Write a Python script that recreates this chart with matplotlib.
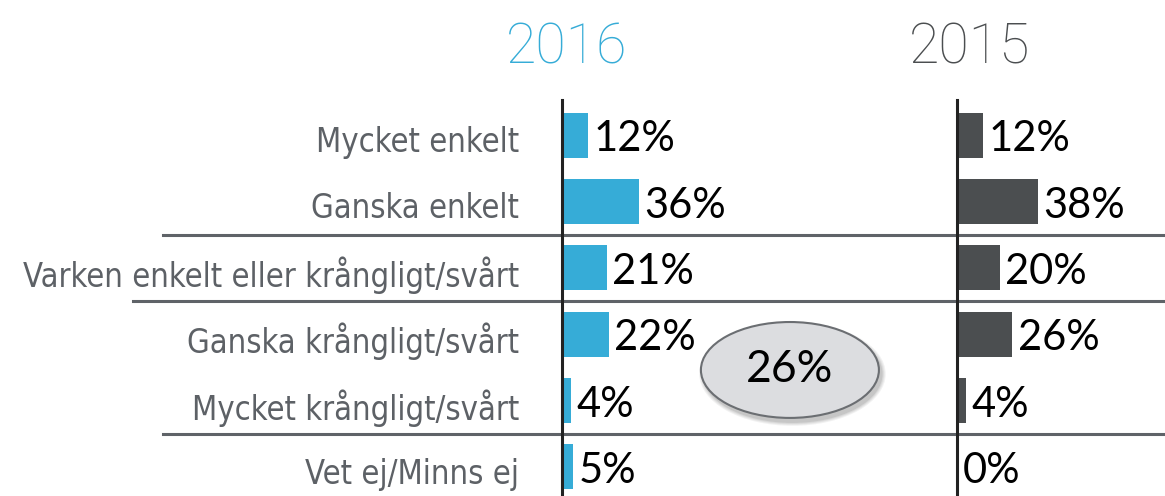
import matplotlib
matplotlib.use("Agg")
import matplotlib.pyplot as plt
from matplotlib.patches import Ellipse
from matplotlib.transforms import blended_transform_factory, ScaledTranslation

# survey answers, two years
categories = ["Mycket enkelt", "Ganska enkelt", "Varken enkelt eller krångligt/svårt",
              "Ganska krångligt/svårt", "Mycket krångligt/svårt", "Vet ej/Minns ej"]
values_2016 = [12, 36, 21, 22, 4, 5]
values_2015 = [12, 38, 20, 26, 4, 0]
years = ["2016", "2015"]
highlight = "26%"   # ganska + mycket krångligt 2016

blue = "#36acd7"
dark = "#4b4e50"
label_col = "#5d6166"
line_col = "#5f6368"

W, H = 1165, 496
fig = plt.figure(figsize=(W / 100, H / 100), dpi=100)

rows = list(range(len(categories)))
ylim = (5.44, -0.53)
top = 1 - 100 / H

axL = fig.add_axes([562 / W, 0, (957 - 562) / W, top])
axR = fig.add_axes([957 / W, 0, (W - 957) / W, top])

for ax, vals, col, xmax in [(axL, values_2016, blue, 395 / 2.13),
                            (axR, values_2015, dark, 208 / 2.13)]:
    ax.barh(rows, vals, height=0.68, color=col, zorder=2)
    ax.set_xlim(0, xmax)
    ax.set_ylim(*ylim)
    for s in ["top", "right", "bottom"]:
        ax.spines[s].set_visible(False)
    ax.spines["left"].set_linewidth(2.2)
    ax.spines["left"].set_color("#222222")
    ax.spines["left"].set_zorder(5)
    ax.set_xticks([])
    ax.patch.set_alpha(0)
    for r, v in zip(rows, vals):
        ax.annotate(f"{v}%", (v, r), xytext=(4, -3), textcoords="offset points",
                    va="center", ha="left", fontsize=30, family="Lato", color="black")

axL.set_yticks(rows, labels=categories)
axL.tick_params(axis="y", length=0, pad=31, labelsize=23.5, labelcolor=label_col)
shift = ScaledTranslation(0, -4 / 100, fig.dpi_scale_trans)
for t in axL.get_yticklabels():
    t.set_family("DejaVu Sans")
    t.set_stretch("condensed")
    t.set_transform(t.get_transform() + shift)
axR.set_yticks([])

# separator lines between groups
tr = blended_transform_factory(fig.transFigure, axL.transData)
for y, x0 in [(1.5, 163), (2.5, 133), (4.5, 163)]:
    axL.plot([x0 / W, 1], [y, y], transform=tr, color=line_col, lw=2.2,
             clip_on=False, zorder=1)

# titles
fig.text(567 / W, 1 - 63 / H, years[0], ha="center", va="baseline", fontsize=40,
         family="Roboto", fontweight="light", color=blue)
fig.text(970 / W, 1 - 63 / H, years[1], ha="center", va="baseline", fontsize=40,
         family="Roboto", fontweight="light", color=dark)

# highlight bubble with soft shadow
ex, ey, ew, eh = 107, 3.54, 178 / 2.13, 96 / 66.4
for i, a in enumerate([0.05, 0.05, 0.06, 0.08]):
    d = 4 - i
    axL.add_patch(Ellipse((ex + 1.2, ey + 0.06), ew + d, eh + d * 0.03,
                          color="black", alpha=a, lw=0, zorder=6, clip_on=False))
axL.add_patch(Ellipse((ex, ey), ew, eh, facecolor="#dcdde0", edgecolor="#6b6e72",
                      lw=1.5, zorder=7, clip_on=False))
axL.text(ex, ey, highlight, ha="center", va="center", fontsize=32, family="Lato",
         color="black", zorder=8)

fig.savefig("out.png", dpi=100)
